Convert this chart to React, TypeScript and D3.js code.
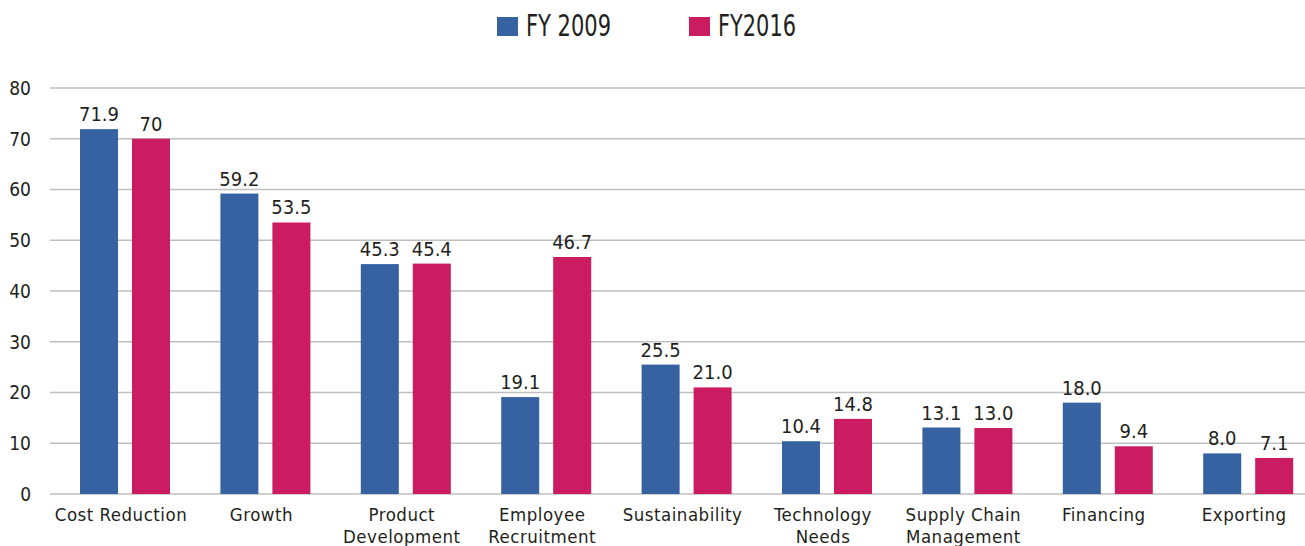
import React from 'react';
import * as d3 from 'd3';

const categories = ['Cost Reduction', 'Growth', 'Product Development', 'Employee Recruitment', 'Sustainability', 'Technology Needs', 'Supply Chain Management', 'Financing', 'Exporting'];
const categoryLines = [['Cost Reduction'], ['Growth'], ['Product', 'Development'], ['Employee', 'Recruitment'], ['Sustainability'], ['Technology', 'Needs'], ['Supply Chain', 'Management'], ['Financing'], ['Exporting']];
const seriesNames = ['FY 2009', 'FY2016'];
const fy2009 = [71.9, 59.2, 45.3, 19.1, 25.5, 10.4, 13.1, 18.0, 8.0];
const fy2016 = [70, 53.5, 45.4, 46.7, 21.0, 14.8, 13.0, 9.4, 7.1];
const fy2009Labels = ['71.9', '59.2', '45.3', '19.1', '25.5', '10.4', '13.1', '18.0', '8.0'];
const fy2016Labels = ['70', '53.5', '45.4', '46.7', '21.0', '14.8', '13.0', '9.4', '7.1'];
const yTicks = [0, 10, 20, 30, 40, 50, 60, 70, 80];

const colors = ['#3762a2', '#cb1c62'];
const textColor = '#231f20';
const font = '"Liberation Sans Narrow", "DejaVu Sans Condensed", "Roboto Condensed", sans-serif';

const W = 1305;
const H = 546;

const App = () => {
  const x0 = d3.scaleBand().domain(categories).range([29.6, 1343.6]).paddingInner(0.359).paddingOuter(0.359);
  const x1 = d3.scaleBand().domain(seriesNames).range([0, x0.bandwidth()]).paddingInner(0.269);
  const y = d3.scaleLinear().domain([0, 80]).range([494, 88]);

  const series = [
    { name: seriesNames[0], values: fy2009, labels: fy2009Labels, color: colors[0], legendX: 497, legendLen: 85 },
    { name: seriesNames[1], values: fy2016, labels: fy2016Labels, color: colors[1], legendX: 689, legendLen: 78 },
  ];

  return (
    <div style={{ position: 'absolute', left: 0, top: 0 }}>
      <svg width={W} height={H} style={{ display: 'block', background: '#fff' }} fontFamily={font}>
        {/* grid */}
        {yTicks.map(t => (
          <g key={t}>
            <line x1={50} x2={W} y1={y(t)} y2={y(t)} stroke="#bfbfbf" strokeWidth={1.4} />
            <text x={31} y={y(t)} dy="0.36em" textAnchor="end" fontSize={19} fill={textColor}>{t}</text>
          </g>
        ))}

        {/* bars */}
        {series.map(s => (
          <g key={s.name}>
            {categories.map((c, i) => {
              const bx = (x0(c) || 0) + (x1(s.name) || 0);
              const by = y(s.values[i]);
              return (
                <g key={c}>
                  <rect x={bx} y={by} width={x1.bandwidth()} height={y(0) - by} fill={s.color} />
                  <text x={bx + x1.bandwidth() / 2} y={by - 8} textAnchor="middle" fontSize={20} fill={textColor}>{s.labels[i]}</text>
                </g>
              );
            })}
          </g>
        ))}

        {/* category labels */}
        {categories.map((c, i) => (
          <text key={c} x={(x0(c) || 0) + x0.bandwidth() / 2 - 4} y={521} textAnchor="middle" fontSize={18.5} letterSpacing={0.5} fill={textColor}>
            {categoryLines[i].map((line, j) => (
              <tspan key={j} x={(x0(c) || 0) + x0.bandwidth() / 2 - 4} dy={j === 0 ? 0 : 22}>{line}</tspan>
            ))}
          </text>
        ))}

        {/* legend */}
        {series.map(s => (
          <g key={s.name} transform={`translate(${s.legendX},17)`}>
            <rect width={21} height={19} fill={s.color} />
            <text x={29} y={19} fontSize={30} fontWeight={500} textLength={s.legendLen} lengthAdjust="spacingAndGlyphs" fill={textColor}>{s.name}</text>
          </g>
        ))}
      </svg>
    </div>
  );
};

export default App;
